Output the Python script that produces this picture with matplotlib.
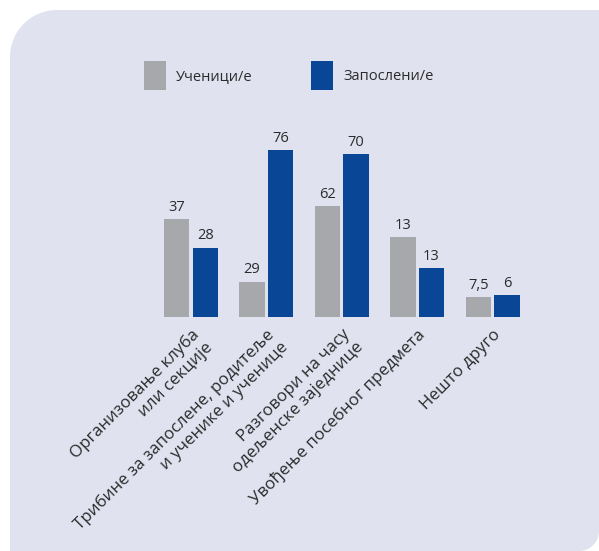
import numpy as np
import matplotlib
matplotlib.use("Agg")
import matplotlib.pyplot as plt
from matplotlib.patches import Polygon, Patch

categories = ["Организовање клуба\nили секције",
              "Трибине за запослене, родитеље\nи ученике и ученице",
              "Разговори на часу\nодељенске заједнице",
              "Увођење посебног предмета",
              "Нешто друго"]
series_names = ["Ученици/е", "Запослени/е"]
# bar heights as drawn in the original (its printed numbers don't follow the heights)
students = [44.5, 16, 50.5, 36.5, 9]
staff = [31.5, 76, 74, 22, 10]
students_labels = ["37", "29", "62", "13", "7,5"]
staff_labels = ["28", "76", "70", "13", "6"]

grey = "#A7A8AB"
blue = "#0A4696"
panel = "#E0E2F0"
txt = "#2B2B2B"

plt.rcParams['font.family'] = ['Open Sans', 'DejaVu Sans']

W, H = 599, 551
fig = plt.figure(figsize=(W / 100, H / 100), dpi=100)

# background panel, rounded top-left and bottom-right corners (pixel coords, y down)
bg = fig.add_axes([0, 0, 1, 1])
bg.set_xlim(0, W)
bg.set_ylim(H, 0)
bg.axis("off")
r1, r2 = 47, 20
t1 = np.linspace(np.pi, 1.5 * np.pi, 30)
t2 = np.linspace(0, 0.5 * np.pi, 30)
pts = [(10 + r1 + r1 * np.cos(t), 10 + r1 + r1 * np.sin(t)) for t in t1]
pts += [(W, 10)]
pts += [(W - r2 + r2 * np.cos(t), H - r2 + r2 * np.sin(t)) for t in t2]
pts += [(10, H)]
bg.add_patch(Polygon(pts, closed=True, facecolor=panel, edgecolor="none"))

ax = fig.add_axes([115.6 / W, 0.4252, 452.4 / W, 0.398])
ax.set_facecolor("none")
x = np.arange(len(categories))
bw = 0.338
off = 0.19
b1 = ax.bar(x - off, students, bw, color=grey)
b2 = ax.bar(x + off, staff, bw, color=blue)

for bars, labs in ((b1, students_labels), (b2, staff_labels)):
    for b, lab in zip(bars, labs):
        ax.annotate(lab, (b.get_x() + b.get_width() / 2, b.get_height()),
                    xytext=(0, 3), textcoords="offset points",
                    ha="center", va="bottom", fontsize=10.5, color=txt)

ax.set_xlim(-1, 5)
ax.set_ylim(0, 100)
ax.set_yticks([])
ax.set_xticks(x, categories, rotation=45, ha="right", va="top",
              rotation_mode="anchor", fontsize=12.2, color=txt,
              linespacing=1.2)
ax.tick_params(axis="x", length=0, pad=7)
for s in ax.spines.values():
    s.set_visible(False)

handles = [Patch(facecolor=grey), Patch(facecolor=blue)]
fig.legend(handles, series_names, loc="center", bbox_to_anchor=(289 / W, 0.863),
           ncol=2, frameon=False, fontsize=10.5, handlelength=1.5,
           handleheight=2.7, handletextpad=0.7, columnspacing=4.0,
           labelcolor=txt)

fig.savefig("out.png", dpi=100, facecolor="white")
